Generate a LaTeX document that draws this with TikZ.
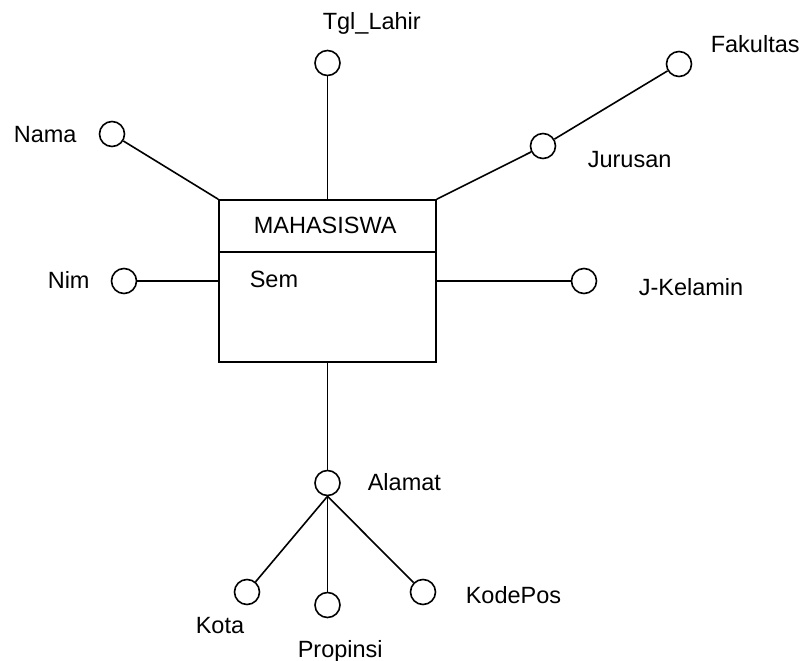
\documentclass[tikz,border=0pt]{standalone}
\usepackage{fontspec}
\setmainfont{Liberation Sans}
\usetikzlibrary{positioning, calc}

\begin{document}
\begin{tikzpicture}[
    x=1pt, y=-1pt,
    font=\fontsize{23.5}{28}\selectfont,
    line width=1.6pt,
    entity/.style={rectangle, draw, minimum width=217pt, minimum height=162pt, inner sep=0pt},
    attr/.style={circle, draw, minimum size=25pt, inner sep=0pt},
    lbl/.style={inner sep=0pt, anchor=base west},
    link/.style={draw}
]
\useasboundingbox (0,0) rectangle (801,661);

% entitas
\node[entity] (mhs) at (327.5,281) {};
\coordinate (divl) at ($(mhs.north west)+(0,53)$);
\coordinate (divr) at ($(mhs.north east)+(0,53)$);
\draw (divl) -- (divr);
\node[lbl] (judul) at (253,233) {MAHASISWA};
\node[lbl] (sem) at (249,287) {Sem};

% atribut
\node[attr] (tgllahir) at (327.5,63) {};
\node[attr] (fakultas) at (679,64) {};
\node[attr] (nama) at (112,134) {};
\node[attr] (jurusan) at (543,146) {};
\node[attr] (nim) at (124,281) {};
\node[attr] (jkelamin) at (584,281) {};
\node[attr] (alamat) at (327.5,483) {};
\node[attr] (kota) at (247,592) {};
\node[attr] (propinsi) at (327.5,605) {};
\node[attr] (kodepos) at (423,592) {};

\node[lbl] (tgllahirtxt) at (322,29.5) {Tgl\_Lahir};
\node[lbl] (fakultastxt) at (710,53) {Fakultas};
\node[lbl] (namatxt) at (13,142) {Nama};
\node[lbl] (jurusantxt) at (587,167) {Jurusan};
\node[lbl] (nimtxt) at (47,288) {Nim};
\node[lbl] (jkelamintxt) at (638,295) {J-Kelamin};
\node[lbl] (alamattxt) at (367,490) {Alamat};
\node[lbl] (kotatxt) at (195,633) {Kota};
\node[lbl] (propinsitxt) at (297,657) {Propinsi};
\node[lbl] (kodepostxt) at (465,603) {KodePos};

% garis
\draw[link] (tgllahir) -- (mhs.north);
\draw[link] (nama) -- (mhs.north west);
\draw[link] (mhs.north east) -- (jurusan) -- (fakultas);
\draw[link] (nim) -- (mhs.west);
\draw[link] (mhs.east) -- (jkelamin);
\draw[link] (mhs.south) -- (alamat);
\draw[link] (alamat.south) -- (kota);
\draw[link] (alamat.south) -- (propinsi);
\draw[link] (alamat.south) -- (kodepos);
\end{tikzpicture}
\end{document}
